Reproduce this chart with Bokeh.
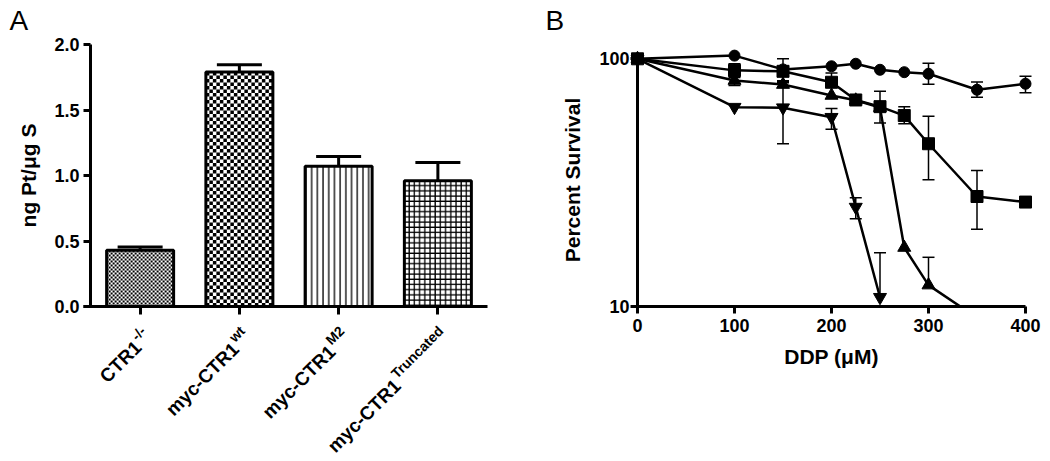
import math
from bokeh.plotting import figure
from bokeh.layouts import row
from bokeh.models import (Range1d, FixedTicker, PrintfTickFormatter,
                          Whisker, TeeHead, ColumnDataSource, Label)
from bokeh.embed import file_html
from bokeh.resources import INLINE

# ---------------- Panel A data ----------------
cat_main = ["CTR1", "myc-CTR1", "myc-CTR1", "myc-CTR1"]
cat_sup = ["-/-", "wt", "M2", "Truncated"]
pt_uptake = [0.43, 1.79, 1.07, 0.96]
pt_err = [0.025, 0.055, 0.075, 0.14]
y_ticks_a = [0.0, 0.5, 1.0, 1.5, 2.0]

# ---------------- Panel B data ----------------
ddp = [0, 100, 150, 200, 225, 250, 275, 300, 350, 400]
x_ticks_b = [0, 100, 200, 300, 400]
y_ticks_b = [10, 100]

surv_circle = [100, 103, 90.6, 93.3, 95.5, 90.3, 88.3, 87.0, 75.0, 79.3]
circle_lo = [None, None, None, None, None, None, None, 79.0, 70.0, 73.0]
circle_hi = [None, None, None, None, None, None, None, 96.0, 80.6, 85.0]

surv_square = [100, 89.8, 89.0, 80.4, 68.2, 64.1, 59.0, 45.4, 27.8, 26.4]
square_lo = [None, 84.0, 80.0, 76.7, None, 55.0, 54.7, 32.5, 20.5, None]
square_hi = [None, 95.5, 100.0, 87.6, None, 74.0, 64.0, 58.6, 35.4, None]

surv_triangle = [100, 81.7, 78.7, 71.1, 68.0, 63.5, 17.3, 12.2, 9.0]
triangle_lo = [None, 78.0, 76.7, None, None, None, None, None, None]
triangle_hi = [None, 85.0, 81.0, None, None, None, None, 15.8, None]

surv_invtri = [100, 63.8, 63.5, 58.1, 25.2, 10.9]
invtri_lo = [None, None, 45.4, 52.0, 22.6, None]
invtri_hi = [None, None, 81.6, 63.0, 27.5, 16.5]

FONT = "Liberation Sans"
W_A, W_B, H = 528, 520, 460

# approximate bold advance widths (em/1000) used to place superscripts
CHW = {'-': 333, '/': 278, 'w': 778, 't': 333, 'M': 833, '2': 556, 'T': 611,
       'r': 389, 'u': 611, 'n': 611, 'c': 556, 'a': 556, 'e': 556, 'd': 611}


def text_w(s, size):
    return sum(CHW.get(ch, 600) for ch in s) / 1000.0 * size


def style_axis(ax, tick_size):
    ax.axis_line_width = 3
    ax.axis_line_color = "black"
    ax.major_tick_line_width = 3
    ax.major_tick_line_color = "black"
    ax.major_tick_in = 0
    ax.major_tick_out = 7
    ax.minor_tick_line_color = None
    ax.major_label_text_font = FONT
    ax.major_label_text_font_style = "bold"
    ax.major_label_text_font_size = tick_size
    ax.major_label_text_color = "black"
    ax.axis_label_text_font = FONT
    ax.axis_label_text_font_style = "bold"
    ax.axis_label_text_font_size = "21px"
    ax.axis_label_text_color = "black"


# ======================= Panel A =======================
# plot area: axis origin at (90, 306) px, 99.25 px per category, 131 px per unit
A_X0, A_Y0, A_PXX, A_PXY = 90, 306, 99.25, 131.0
pa = figure(x_range=Range1d(-A_X0 / A_PXX, (W_A - A_X0) / A_PXX),
            y_range=Range1d(-(H - A_Y0) / A_PXY, A_Y0 / A_PXY),
            width=W_A, height=H, min_border=0,
            toolbar_location=None, output_backend="svg")
pa.outline_line_color = None
pa.xgrid.grid_line_color = None
pa.ygrid.grid_line_color = None

n_cat = len(cat_main)
xc = [i + 0.5 for i in range(n_cat)]
bar_w = 0.675
src_a = ColumnDataSource(dict(
    x=xc, top=pt_uptake, upper=[v + e for v, e in zip(pt_uptake, pt_err)],
    hatch=["blank", "blank", "vertical_line", "cross"],
    hscale=[6, 6, 5.7, 5.2],
))
pa.vbar(x="x", top="top", width=bar_w, source=src_a, fill_color="white",
        line_color=None, hatch_pattern="hatch", hatch_scale="hscale",
        hatch_color="black", hatch_weight=1.3)

# checkerboard fills for the first two bars
L, R, B, T = [], [], [], []
for i, cell in [(0, 2.0), (1, 3.5)]:
    v = pt_uptake[i]
    x0, x1 = xc[i] - bar_w / 2, xc[i] + bar_w / 2
    dx, dy = cell / A_PXX, cell / A_PXY
    nx, ny = math.ceil((x1 - x0) / dx), math.ceil(v / dy)
    for a in range(nx):
        for b in range(ny):
            if (a + b) % 2 == 0:
                l = x0 + a * dx
                bt = b * dy
                L.append(l); R.append(min(l + dx, x1))
                B.append(bt); T.append(min(bt + dy, v))
pa.quad(left=L, right=R, bottom=B, top=T, fill_color="black", line_color=None)

pa.vbar(x="x", top="top", width=bar_w, source=src_a, fill_color=None,
        line_color="black", line_width=3)

pa.add_layout(Whisker(source=src_a, base="x", lower="top", upper="upper",
                      line_width=3, line_color="black",
                      upper_head=TeeHead(size=45, line_width=3, line_color="black"),
                      lower_head=None))

style_axis(pa.yaxis[0], "18px")
style_axis(pa.xaxis[0], "18px")
pa.yaxis.ticker = FixedTicker(ticks=y_ticks_a, minor_ticks=[])
pa.yaxis.formatter = PrintfTickFormatter(format="%.1f")
pa.yaxis.fixed_location = 0
pa.yaxis.bounds = (y_ticks_a[0], y_ticks_a[-1])
pa.yaxis.major_label_standoff = 4
pa.yaxis.axis_label = "ng Pt/\u03bcg S"
pa.yaxis.axis_label_standoff = 11
pa.xaxis.ticker = FixedTicker(ticks=xc, minor_ticks=[])
pa.xaxis.fixed_location = 0
pa.xaxis.bounds = (-0.07, n_cat)
pa.xaxis.major_tick_out = 8
pa.xaxis.major_label_text_font_size = "0px"
pa.xaxis.major_label_text_alpha = 0

# rotated category labels with superscripts
c45 = math.cos(math.pi / 4)
MAIN_SIZE, SUP_SIZE = 19, 14
for i, (m, s) in enumerate(zip(cat_main, cat_sup)):
    sx, sy = 3, -22
    w = text_w(s, SUP_SIZE) + 1.5
    rise = 7.5
    pa.add_layout(Label(x=xc[i], y=0, x_offset=sx, y_offset=sy, text=s,
                        angle=45, angle_units="deg", text_align="right",
                        text_baseline="alphabetic", text_font=FONT,
                        text_font_style="bold", text_font_size=f"{SUP_SIZE}px",
                        text_color="black"))
    pa.add_layout(Label(x=xc[i], y=0,
                        x_offset=sx - w * c45 + rise * c45,
                        y_offset=sy - w * c45 - rise * c45, text=m,
                        angle=45, angle_units="deg", text_align="right",
                        text_baseline="alphabetic", text_font=FONT,
                        text_font_style="bold", text_font_size=f"{MAIN_SIZE}px",
                        text_color="black"))

pa.add_layout(Label(x=(9 - A_X0) / A_PXX, y=(A_Y0 - 20) / A_PXY, text="A",
                    text_font=FONT, text_font_size="28px", text_align="left",
                    text_baseline="alphabetic", text_color="black"))

# ======================= Panel B =======================
# plot origin at canvas (109, 306) px, 0.97 px per uM, 247.7 px per decade
B_X0, B_Y0, B_PXX, B_DEC = 109, 306, 0.97, 247.7
y_lo = y_ticks_b[0]
pb = figure(x_range=Range1d(-B_X0 / B_PXX, (W_B - B_X0) / B_PXX),
            y_range=Range1d(y_lo * 10 ** (-(H - B_Y0) / B_DEC), y_lo * 10 ** (B_Y0 / B_DEC)),
            y_axis_type="log", width=W_B, height=H, min_border=0,
            toolbar_location=None, output_backend="svg")
pb.outline_line_color = None
pb.xgrid.grid_line_color = None
pb.ygrid.grid_line_color = None

series = [
    (ddp, surv_circle, circle_lo, circle_hi, "circle", 11),
    (ddp, surv_square, square_lo, square_hi, "square", 12),
    (ddp[:len(surv_triangle)], surv_triangle, triangle_lo, triangle_hi, "triangle", 13),
    (ddp[:len(surv_invtri)], surv_invtri, invtri_lo, invtri_hi, "inverted_triangle", 13),
]

for xs, ys, lo, hi, mk, sz in series:
    pb.line(xs, ys, line_width=2.5, line_color="black")
    pb.scatter(xs, ys, marker=mk, size=sz, fill_color="black", line_color="black")

# white mask below the x axis (the original plot clips at its 10% floor)
pb.quad(left=pb.x_range.start, right=pb.x_range.end, bottom=pb.y_range.start,
        top=y_lo, fill_color="white", line_color=None)

for xs, ys, lo, hi, mk, sz in series:
    up = [(x, y, h) for x, y, h in zip(xs, ys, hi) if h is not None]
    dn = [(x, y, l) for x, y, l in zip(xs, ys, lo) if l is not None]
    if up:
        s_up = ColumnDataSource(dict(x=[u[0] for u in up], y=[u[1] for u in up],
                                     h=[u[2] for u in up]))
        pb.add_layout(Whisker(source=s_up, base="x", lower="y", upper="h",
                              line_width=1.5, line_color="black",
                              upper_head=TeeHead(size=12, line_width=1.5, line_color="black"),
                              lower_head=None))
    if dn:
        s_dn = ColumnDataSource(dict(x=[d[0] for d in dn], y=[d[1] for d in dn],
                                     l=[d[2] for d in dn]))
        pb.add_layout(Whisker(source=s_dn, base="x", lower="l", upper="y",
                              line_width=1.5, line_color="black",
                              lower_head=TeeHead(size=12, line_width=1.5, line_color="black"),
                              upper_head=None))

style_axis(pb.yaxis[0], "18px")
style_axis(pb.xaxis[0], "18px")
pb.yaxis.ticker = FixedTicker(ticks=y_ticks_b, minor_ticks=[])
pb.yaxis.formatter = PrintfTickFormatter(format="%d")
pb.yaxis.fixed_location = x_ticks_b[0]
pb.yaxis.bounds = (y_ticks_b[0], 105)
pb.yaxis.major_label_standoff = 1
pb.yaxis.axis_label = "Percent Survival"
pb.yaxis.axis_label_standoff = 12
pb.xaxis.ticker = FixedTicker(ticks=x_ticks_b, minor_ticks=[])
pb.xaxis.fixed_location = y_lo
pb.xaxis.bounds = (x_ticks_b[0], x_ticks_b[-1])
pb.xaxis.major_label_standoff = 5
pb.xaxis.axis_label = "DDP (\u03bcM)"
pb.xaxis.axis_label_standoff = 10

pb.add_layout(Label(x=(17 - B_X0) / B_PXX, y=y_lo * 10 ** ((B_Y0 - 20) / B_DEC),
                    text="B", text_font=FONT, text_font_size="28px",
                    text_align="left", text_baseline="alphabetic", text_color="black"))

layout = row(pa, pb)
open("out.html", "w").write(file_html(layout, INLINE))
